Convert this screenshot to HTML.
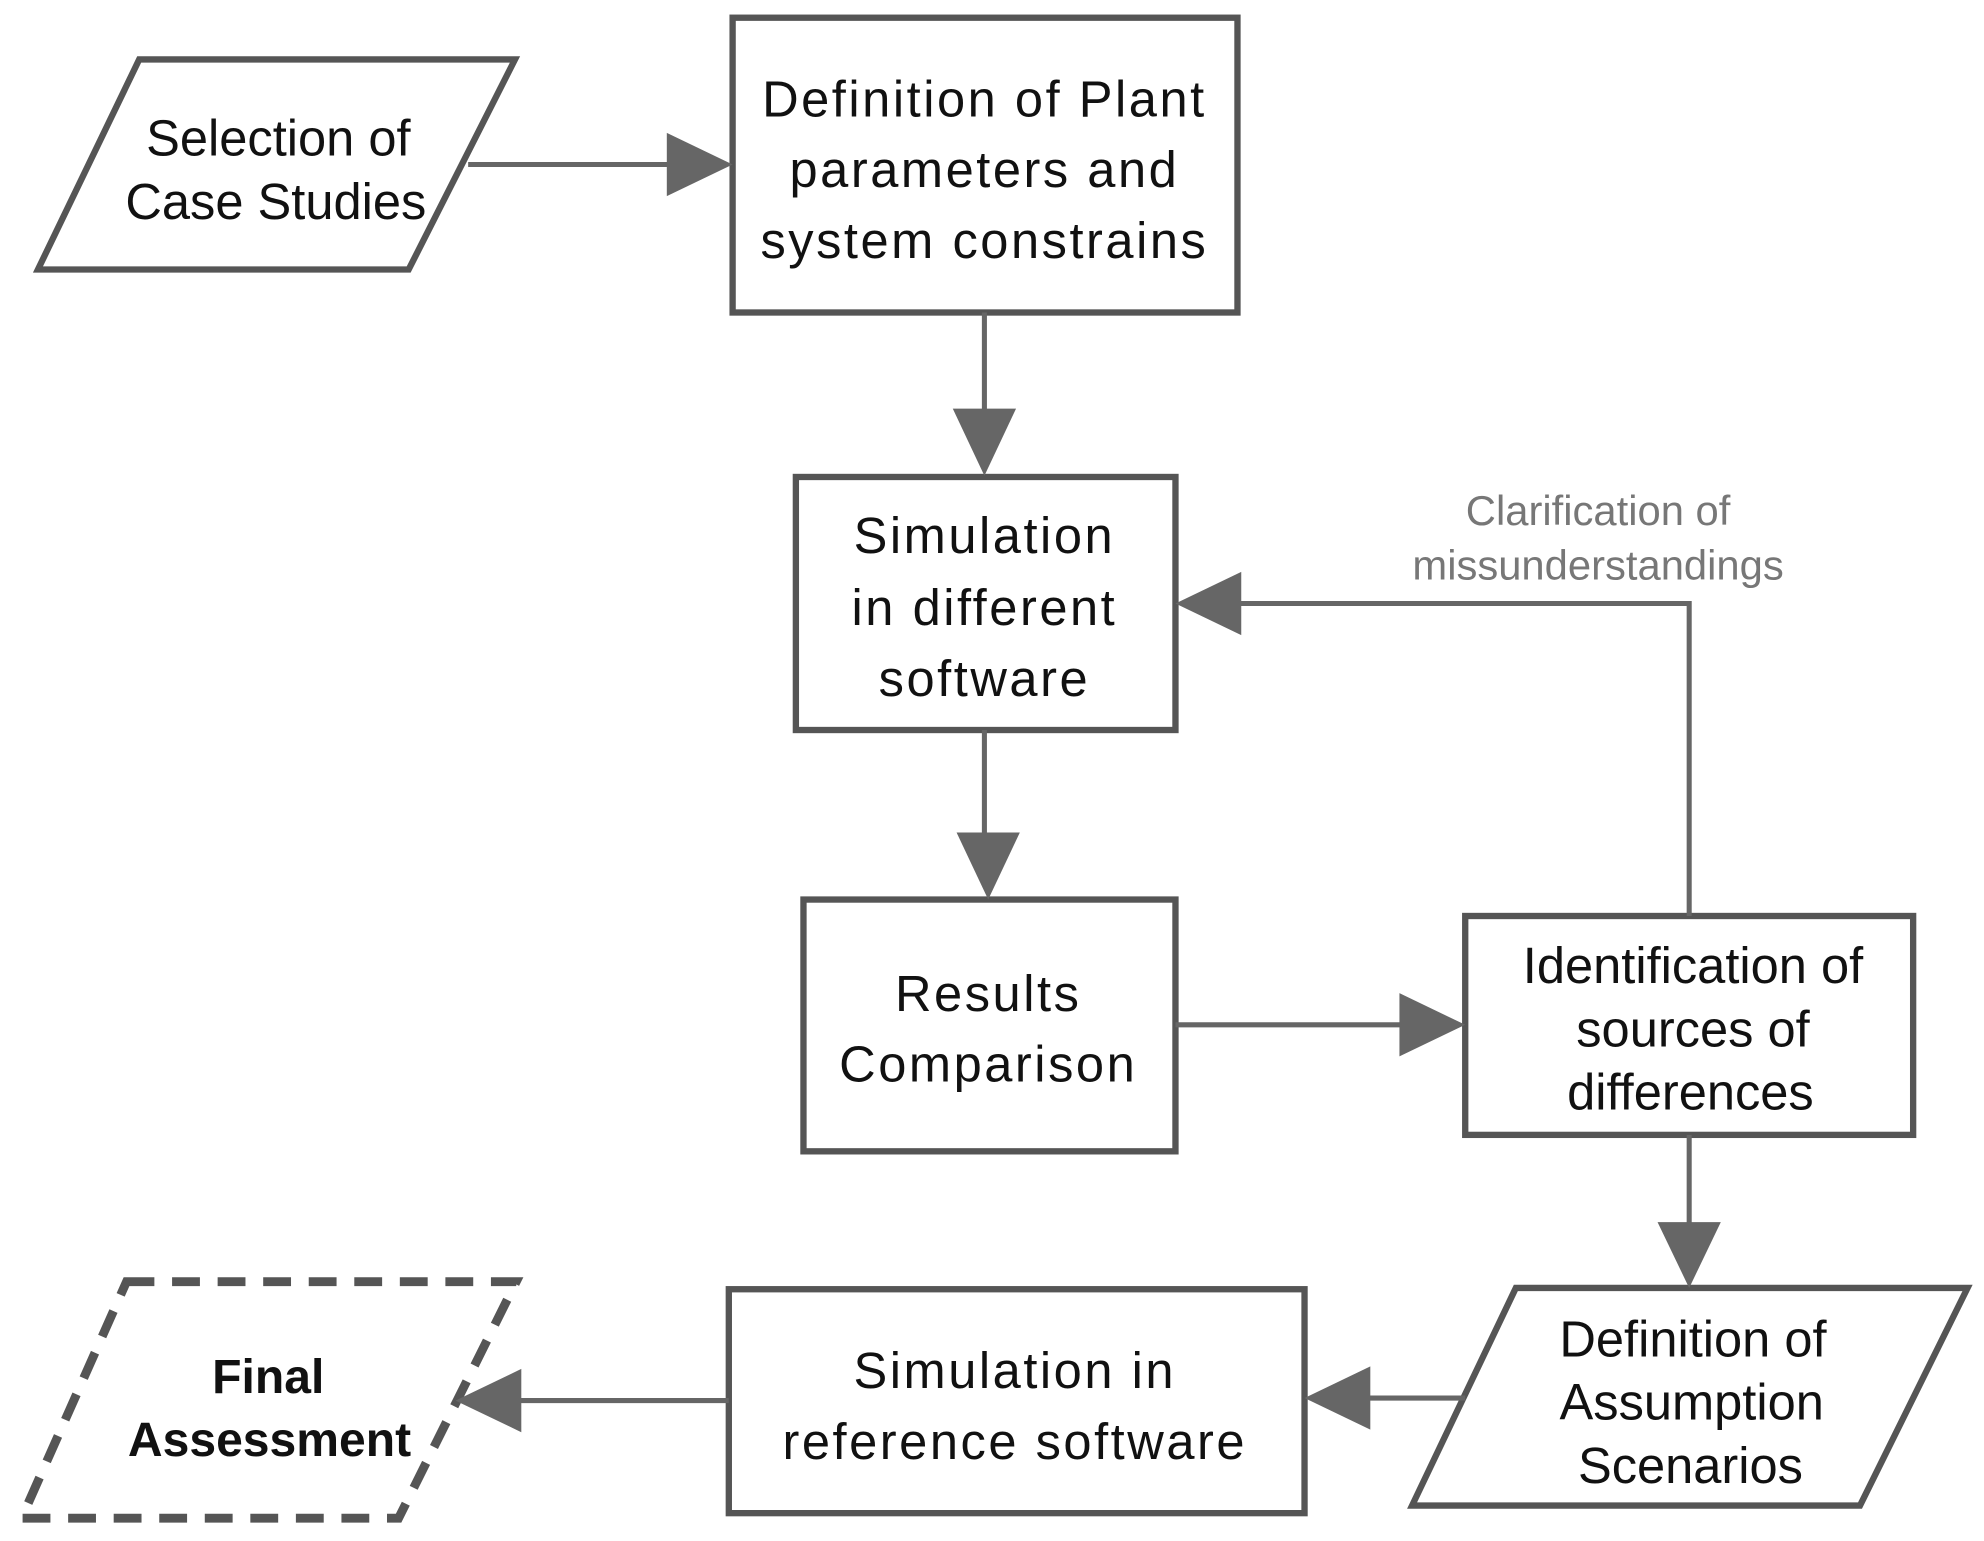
<!DOCTYPE html>
<html><head><style>html,body{margin:0;padding:0;background:#fff}svg{display:block}</style></head><body>
<svg width="1984" height="1541" viewBox="0 0 1568 1218" preserveAspectRatio="none" xmlns="http://www.w3.org/2000/svg">
<g fill="none" stroke="#555" stroke-width="5">
<polygon points="110,47 407,47 323,213 30,213"/>
<rect x="579" y="14" width="399" height="233"/>
<rect x="629" y="377" width="300" height="200"/>
<rect x="635" y="711" width="294" height="199"/>
<rect x="1158" y="724" width="354" height="173"/>
<polygon points="1198,1018 1555,1018 1470,1190 1116,1190"/>
<rect x="576" y="1019" width="455" height="177"/>
<polygon points="100,1013 408,1013 315,1200 17,1200" stroke-dasharray="22,14" stroke-width="7"/>
</g>
<g stroke="#666" stroke-width="4" fill="none">
<line x1="370" y1="130" x2="530" y2="130"/>
<line x1="778" y1="247" x2="778" y2="326"/>
<line x1="778" y1="577" x2="778" y2="660"/>
<line x1="929" y1="810" x2="1108" y2="810"/>
<polyline points="1335,724 1335,477 979,477"/>
<line x1="1335" y1="897" x2="1335" y2="968"/>
<line x1="1158" y1="1105" x2="1081" y2="1105"/>
<line x1="576" y1="1107" x2="410" y2="1107"/>
</g>
<g fill="#666">
<polygon points="579,130 527,105 527,155"/>
<polygon points="778,376 753,323 803,323"/>
<polygon points="781,711 756,658 806,658"/>
<polygon points="1158,810 1106,785 1106,835"/>
<polygon points="929,477 981,452 981,502"/>
<polygon points="1335,1018 1310,966 1360,966"/>
<polygon points="1031,1105 1083,1080 1083,1130"/>
<polygon points="360,1107 412,1082 412,1132"/>
</g>
<g font-family="Liberation Sans, sans-serif" fill="#111" text-anchor="middle" font-size="40">
<text x="220" y="123">Selection of</text>
<text x="218" y="173">Case Studies</text>
<g letter-spacing="2">
<text x="778" y="92">Definition of Plant</text>
<text x="778" y="148">parameters and</text>
<text x="778" y="204">system constrains</text>
<text x="778" y="437">Simulation</text>
<text x="778" y="494">in different</text>
<text x="778" y="550">software</text>
<text x="781" y="799">Results</text>
<text x="781" y="855">Comparison</text>
<text x="802" y="1097">Simulation in</text>
<text x="802" y="1153">reference software</text>
</g>
<text x="1338" y="777">Identification of</text>
<text x="1338" y="827">sources of</text>
<text x="1336" y="877">differences</text>
<text x="1338" y="1072">Definition of</text>
<text x="1337" y="1122">Assumption</text>
<text x="1336" y="1172">Scenarios</text>
<text x="212" y="1101" font-weight="bold" font-size="38">Final</text>
<text x="213" y="1151" font-weight="bold" font-size="38">Assessment</text>
<text x="1263" y="415" font-size="33" fill="#777">Clarification of</text>
<text x="1263" y="458" font-size="33" fill="#777">missunderstandings</text>
</g>
</svg>
</body></html>
